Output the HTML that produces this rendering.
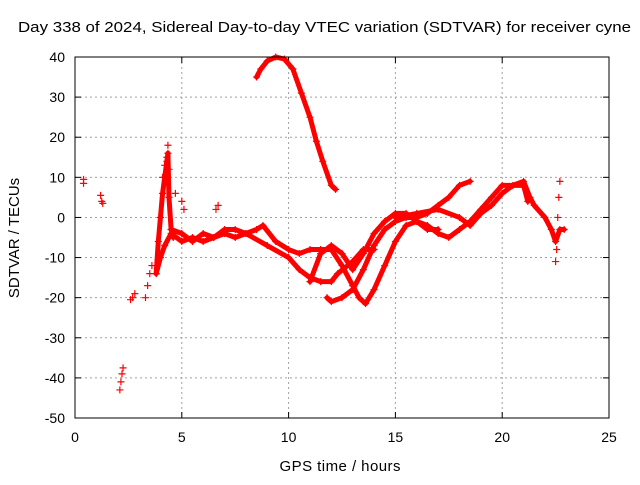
<!DOCTYPE html>
<html><head><meta charset="utf-8"><style>
body{margin:0;background:#fff;}
svg{font-family:"Liberation Sans",sans-serif;}
</style></head><body>
<svg id="chart" width="640" height="480" xmlns="http://www.w3.org/2000/svg">
<rect width="640" height="480" fill="#fff"/>
<text x="18" y="32" font-size="15" textLength="613" lengthAdjust="spacingAndGlyphs">Day 338 of 2024, Sidereal Day-to-day VTEC variation (SDTVAR) for receiver cyne</text>
<text x="340" y="471" font-size="15" text-anchor="middle" textLength="121">GPS time / hours</text>
<text transform="translate(19,238) rotate(-90)" font-size="15" text-anchor="middle">SDTVAR / TECUs</text>
<g id="grid"></g>
<g id="axes"></g>
<g id="series"></g>
<rect x="75" y="57" width="534" height="361" fill="none" stroke="#000" stroke-width="1"/>
</svg>
<script>
const xTicks=[0,5,10,15,20,25];
const yTicks=[-50,-40,-30,-20,-10,0,10,20,30,40];
// tracks: [hours, TECU] pairs
const isolatedX=[0.4,0.4,1.2,1.25,1.3,2.1,2.15,2.2,2.25,2.6,2.7,2.8,3.3,3.4,3.5,3.6,4.1,4.2,4.3,4.35,4.4,4.7,5.0,5.1,6.6,6.7,22.5,22.55,22.6,22.65,22.7];
const isolatedY=[9.5,8.5,5.5,4,3.5,-43,-41,-39,-37.5,-20.5,-20,-19,-20,-17,-14,-12,10,13,15,18,12,6,4,2,2,3,-11,-8,0,5,9];
const trackArcX=[8.5,8.7,9,9.4,9.8,10.2,10.6,11,11.3,11.6,12,12.2];
const trackArcY=[35,37,39,40,39.5,37,31,25,19,14,8,7];
const trackSpikeX=[3.8,3.9,4.0,4.1,4.2,4.3,4.35,4.4,4.5,4.6];
const trackSpikeY=[-14,-6,0,6,10,14,16,5,-3,-5];
const trackLowX=[3.8,4.0,4.2,4.5,5,5.5,6,6.5,7,7.5,8,9,10,10.5,11,11.5,12,12.3,13,13.5,14];
const trackLowY=[-14,-10,-7,-4,-6,-5,-6,-5,-4,-5,-4,-7,-10,-13,-15,-16,-16,-14,-11,-8,-8];
const trackMidX=[4.5,5,5.5,6,6.5,7,7.5,8,8.5,8.8,9.4,10,10.5,11,11.5,12,12.5,13,13.3,13.6,14,14.5,15,15.5,16,16.5,17,17.5,18,18.5,19,19.5,20,21,21.2];
const trackMidY=[-3,-4,-6,-4,-5,-3,-3,-4,-3,-2,-6,-8,-9,-8,-8,-8,-12,-17,-20,-21.5,-18,-12,-6,-2,-1,-2,-4,-5,-3,-1,2,5,8,8,4];
const trackRiseX=[11.8,12,12.5,13,13.5,14,14.5,15,15.5,16,16.5,17,17.5,18,18.5];
const trackRiseY=[-20,-21,-20,-18,-13,-7,-3,-1,0,0,1,3,5,8,9];
const trackLoopX=[11,11.5,12,12.5,13,13.5,14,14.5,15,15.5,16,16.5,17];
const trackLoopY=[-16,-9,-7,-9,-13,-9,-4,-1,1,1,-1,-3,-3];
const trackLateX=[15,16,17,18,18.5,19,19.5,20,20.5,21,21.3,21.5,22,22.3,22.5,22.7,22.9];
const trackLateY=[0,1,2,0,-2,1,3,6,8,9,5,3,0,-3,-6,-3,-3];

const NS='http://www.w3.org/2000/svg';
const L=75,R=609,T=57,B=418;
const xs=v=>L+(v-0)/25*(R-L);
const ys=v=>B-(v+50)/90*(B-T);
const g=document.getElementById('grid'),ax=document.getElementById('axes'),s=document.getElementById('series');
function mk(t,a,p){const e=document.createElementNS(NS,t);for(const k in a)e.setAttribute(k,a[k]);p.appendChild(e);return e;}
xTicks.forEach(v=>{
 const x=xs(v);
 if(v>0&&v<25){const l=mk('line',{x1:x,x2:x,y1:T,y2:B,stroke:'#a0a0a0','stroke-dasharray':'2,3'},g);
 
 }
 mk('line',{x1:x,x2:x,y1:B,y2:B-6,stroke:'#000'},ax);
 mk('line',{x1:x,x2:x,y1:T,y2:T+6,stroke:'#000'},ax);
 const t=mk('text',{x:x,y:B+24,'font-size':14,'text-anchor':'middle'},ax);t.textContent=v;
 
 
});
yTicks.forEach(v=>{
 const y=ys(v);
 if(v>-50&&v<40){const l=mk('line',{x1:L,x2:R,y1:y,y2:y,stroke:'#a0a0a0','stroke-dasharray':'2,3'},g);
 
 }
 mk('line',{x1:L,x2:L+6,y1:y,y2:y,stroke:'#000'},ax);
 mk('line',{x1:R,x2:R-6,y1:y,y2:y,stroke:'#000'},ax);
 const t=mk('text',{x:L-10,y:y+5,'font-size':14,'text-anchor':'end'},ax);t.textContent=v;
 
 
});
function marker(x,y){
 const p=mk('path',{d:`M${x-3.5},${y}h7M${x},${y-3.5}v7`,stroke:'#f00','stroke-width':1.2,fill:'none'},s);
 
 
}
function track(X,Y,name){
 const pts=X.map((v,i)=>xs(v)+','+ys(Y[i])).join(' ');
 const pl=mk('polyline',{points:pts,fill:'none',stroke:'#f00','stroke-width':5,'stroke-linejoin':'round','stroke-linecap':'round'},s);
 
 
 X.forEach((v,i)=>marker(xs(v),ys(Y[i])));
}
track(trackArcX,trackArcY,'track-arc');
track(trackSpikeX,trackSpikeY,'track-spike');
track(trackLowX,trackLowY,'track-low');
track(trackMidX,trackMidY,'track-mid');
track(trackRiseX,trackRiseY,'track-rise');
track(trackLoopX,trackLoopY,'track-loop');
track(trackLateX,trackLateY,'track-late');
isolatedX.forEach((v,i)=>marker(xs(v),ys(isolatedY[i])));
</script>
</body></html>
